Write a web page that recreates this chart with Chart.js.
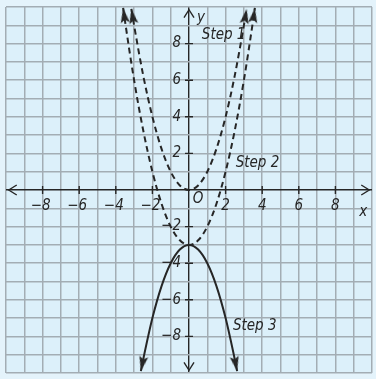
<!DOCTYPE html>
<html>
<head>
<meta charset="utf-8">
<script src="https://cdn.jsdelivr.net/npm/chart.js@4.4.1/dist/chart.umd.min.js"></script>
<style>
html, body { margin: 0; padding: 0; overflow: hidden; background: #e4f3fb; }
canvas { display: block; }
</style>
</head>
<body>
<canvas id="graph" width="378" height="379"></canvas>
<script>
'use strict';

// Step 1: y = x^2 (dashed)
var step1X = [-3.15, -3, -2.5, -2, -1.5, -1, -0.5, 0, 0.5, 1, 1.5, 2, 2.5, 3, 3.15];
var step1Y = [9.9, 9, 6.25, 4, 2.25, 1, 0.25, 0, 0.25, 1, 2.25, 4, 6.25, 9, 9.9];

// Step 2: y = x^2 - 3 (dashed)
var step2X = [-3.6, -3.5, -3, -2.5, -2, -1.5, -1, -0.5, 0, 0.5, 1, 1.5, 2, 2.5, 3, 3.5, 3.6];
var step2Y = [9.95, 9.25, 6, 3.25, 1, -0.75, -2, -2.75, -3, -2.75, -2, -0.75, 1, 3.25, 6, 9.25, 9.95];

// Step 3: y = -x^2 - 3 (solid)
var step3X = [-2.63, -2.5, -2, -1.5, -1, -0.5, 0, 0.5, 1, 1.5, 2, 2.5, 2.63];
var step3Y = [-9.9, -9.25, -7, -5.25, -4, -3.25, -3, -3.25, -4, -5.25, -7, -9.25, -9.9];

var xTicks = [-8, -6, -4, -2, 2, 4, 6, 8];
var yTicks = [-8, -6, -4, -2, 2, 4, 6, 8];
var stepNames = ['Step 1', 'Step 2', 'Step 3'];

var inkColor = '#262626';
var gridColor = '#a3adb4';
var handFont = 'italic 15px "Liberation Sans Narrow", "DejaVu Sans Condensed", sans-serif';

var toPoints = function (xs, ys) {
    var pts = [];
    for (var i = 0; i < xs.length; i++) {
        pts.push({ x: xs[i], y: ys[i] });
    }
    return pts;
};

// filled arrowhead, tip at the centre of the image so rotation keeps the tip on the curve end
var makeArrow = function () {
    var c = document.createElement('canvas');
    c.width = 10;
    c.height = 32;
    var g = c.getContext('2d');
    g.fillStyle = inkColor;
    g.beginPath();
    g.moveTo(5, 16);
    g.lineTo(9.5, 31);
    g.lineTo(5, 28);
    g.lineTo(0.5, 31);
    g.closePath();
    g.fill();
    return c;
};
var arrowImage = makeArrow();

var isEnd = function (ctx) {
    return ctx.dataIndex === 0 || ctx.dataIndex === ctx.dataset.data.length - 1;
};

var arrowRotation = function (ctx) {
    var data = ctx.dataset.data;
    var i = ctx.dataIndex;
    var j = i === 0 ? 1 : i - 1;
    var xs = ctx.chart.scales.x;
    var ys = ctx.chart.scales.y;
    var dx = xs.getPixelForValue(data[i].x) - xs.getPixelForValue(data[j].x);
    var dy = ys.getPixelForValue(data[i].y) - ys.getPixelForValue(data[j].y);
    return Math.atan2(dx, -dy) * 180 / Math.PI;
};

var curve = function (label, xs, ys, dash) {
    return {
        label: label,
        data: toPoints(xs, ys),
        borderColor: inkColor,
        borderWidth: 2,
        borderDash: dash,
        cubicInterpolationMode: 'monotone',
        clip: false,
        pointStyle: arrowImage,
        pointRadius: function (ctx) { return isEnd(ctx) ? 4 : 0; },
        pointRotation: arrowRotation
    };
};

var backdrop = {
    id: 'backdrop',
    beforeDraw: function (chart) {
        var c = chart.ctx;
        var a = chart.chartArea;
        c.save();
        c.fillStyle = '#e4f3fb';
        c.fillRect(0, 0, chart.width, chart.height);
        c.fillStyle = '#dcf0fa';
        c.fillRect(a.left, a.top, a.right - a.left, a.bottom - a.top);
        c.restore();
    }
};

var axisMarks = {
    id: 'axisMarks',
    afterDraw: function (chart) {
        var c = chart.ctx;
        var xs = chart.scales.x;
        var ys = chart.scales.y;
        var x0 = xs.getPixelForValue(0);
        var y0 = ys.getPixelForValue(0);
        var left = xs.getPixelForValue(-9.85);
        var right = xs.getPixelForValue(9.85);
        var top = ys.getPixelForValue(9.85);
        var bottom = ys.getPixelForValue(-9.85);
        var i, p;

        c.save();
        c.strokeStyle = inkColor;
        c.lineWidth = 1.4;

        // tick marks on the axes
        c.beginPath();
        for (i = 0; i < xTicks.length; i++) {
            p = xs.getPixelForValue(xTicks[i]);
            c.moveTo(p, y0 - 4);
            c.lineTo(p, y0 + 4);
        }
        for (i = 0; i < yTicks.length; i++) {
            p = ys.getPixelForValue(yTicks[i]);
            c.moveTo(x0 - 4, p);
            c.lineTo(x0 + 4, p);
        }
        c.stroke();

        // open arrow heads at the axis ends
        c.beginPath();
        c.moveTo(left + 8, y0 - 5); c.lineTo(left, y0); c.lineTo(left + 8, y0 + 5);
        c.moveTo(right - 8, y0 - 5); c.lineTo(right, y0); c.lineTo(right - 8, y0 + 5);
        c.moveTo(x0 - 5, top + 8); c.lineTo(x0, top); c.lineTo(x0 + 5, top + 8);
        c.moveTo(x0 - 5, bottom - 8); c.lineTo(x0, bottom); c.lineTo(x0 + 5, bottom - 8);
        c.stroke();

        // numbers
        c.fillStyle = inkColor;
        c.font = handFont;
        c.textBaseline = 'middle';
        c.textAlign = 'center';
        for (i = 0; i < xTicks.length; i++) {
            var t = xTicks[i] < 0 ? '\u2212' + Math.abs(xTicks[i]) : String(xTicks[i]);
            c.fillText(t, xs.getPixelForValue(xTicks[i]) - (xTicks[i] < 0 ? 2 : 0), y0 + 16);
        }
        c.fillText('O', x0 + 9, y0 + 9);
        c.textAlign = 'right';
        for (i = 0; i < yTicks.length; i++) {
            var s = yTicks[i] < 0 ? '\u2212' + Math.abs(yTicks[i]) : String(yTicks[i]);
            c.fillText(s, x0 - 8, ys.getPixelForValue(yTicks[i]));
        }

        // axis names
        c.textAlign = 'center';
        c.fillText('x', right - 6, y0 + 22);
        c.fillText('y', x0 + 12, top + 8);

        // step labels
        c.textAlign = 'left';
        c.fillText(stepNames[0], xs.getPixelForValue(0.7), ys.getPixelForValue(8.45));
        c.fillText(stepNames[1], xs.getPixelForValue(2.55), ys.getPixelForValue(1.45));
        c.fillText(stepNames[2], xs.getPixelForValue(2.4), ys.getPixelForValue(-7.45));
        c.restore();
    }
};

var gridLine = {
    color: function (ctx) { return ctx.tick && ctx.tick.value === 0 ? inkColor : gridColor; },
    lineWidth: function (ctx) { return ctx.tick && ctx.tick.value === 0 ? 1.4 : 1.5; },
    drawTicks: false
};

new Chart(document.getElementById('graph').getContext('2d'), {
    type: 'line',
    data: {
        datasets: [
            curve(stepNames[0], step1X, step1Y, [6, 4]),
            curve(stepNames[1], step2X, step2Y, [6, 4]),
            curve(stepNames[2], step3X, step3Y, [])
        ]
    },
    options: {
        responsive: false,
        animation: false,
        events: [],
        layout: { padding: { left: 4.5, right: 1, top: 7, bottom: 0.5 } },
        plugins: { legend: { display: false }, tooltip: { enabled: false } },
        scales: {
            x: {
                type: 'linear',
                min: -10,
                max: 10,
                ticks: { display: false, stepSize: 1, autoSkip: false },
                grid: gridLine,
                border: { display: false }
            },
            y: {
                type: 'linear',
                min: -10,
                max: 10,
                ticks: { display: false, stepSize: 1, autoSkip: false },
                grid: gridLine,
                border: { display: false }
            }
        }
    },
    plugins: [backdrop, axisMarks]
});
</script>
</body>
</html>
